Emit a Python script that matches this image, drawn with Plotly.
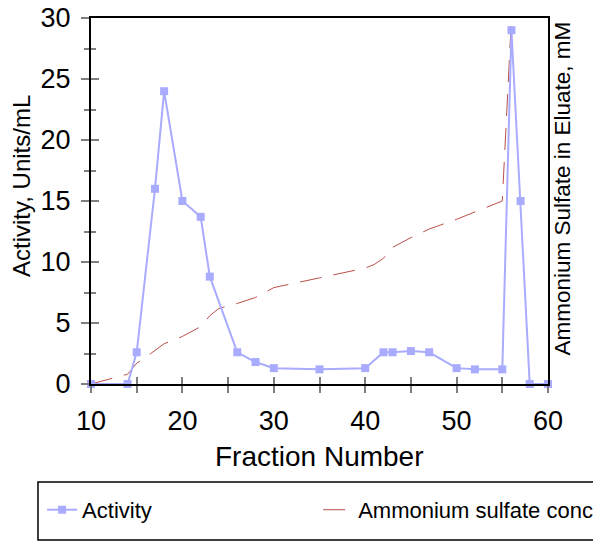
import plotly.graph_objects as go

# Activity (Units/mL) per fraction
fraction_activity = [10, 14, 15, 17, 18, 20, 22, 23, 26, 28, 30, 35, 40, 42, 43, 45, 47, 50, 52, 55, 56, 57, 58, 60]
activity = [0, 0, 2.6, 16, 24, 15, 13.7, 8.8, 2.6, 1.8, 1.3, 1.2, 1.3, 2.6, 2.6, 2.7, 2.6, 1.3, 1.2, 1.2, 29, 15, 0, 0]

# Ammonium sulfate concentration (plotted on the same visual scale)
fraction_salt = [10, 14, 15, 16, 18, 20, 22, 23, 24, 26, 28, 30, 35, 40, 41, 42, 43, 45, 47, 50, 52, 55, 56]
salt = [0, 0.8, 1.7, 2.2, 3.3, 3.9, 4.7, 5.6, 6.2, 6.6, 7.1, 7.9, 8.7, 9.5, 9.8, 10.3, 11.2, 12.0, 12.7, 13.5, 14.1, 15.0, 30]

x_ticks = [10, 20, 30, 40, 50, 60]
y_ticks = [0, 5, 10, 15, 20, 25, 30]

FONT = "Liberation Sans, Arial, sans-serif"
BLUE = "#a9abff"
RED = "#b9504c"
TICKC = "#7f7f7f"

fig = go.Figure()
fig.add_trace(go.Scatter(
    x=fraction_activity, y=activity, name="Activity", mode="lines+markers",
    line=dict(color=BLUE, width=2), marker=dict(symbol="square", size=8, color=BLUE),
    xaxis="x2", yaxis="y2", cliponaxis=False, legend="legend",
))
fig.add_trace(go.Scatter(
    x=fraction_salt, y=salt, name="Ammonium sulfate conc", mode="lines",
    line=dict(color=RED, width=1, dash="22px,12px"),
    xaxis="x", yaxis="y", legend="legend2",
))

common_x = dict(range=[10, 60], showgrid=False, zeroline=False)
common_y = dict(range=[0, 30], showgrid=False, zeroline=False)
leg_common = dict(orientation="h", xanchor="left", y=-0.344, yanchor="middle",
                  bgcolor="rgba(0,0,0,0)", borderwidth=0, font=dict(size=22, family=FONT))

fig.update_layout(
    width=593, height=533,
    paper_bgcolor="white", plot_bgcolor="white",
    font=dict(family=FONT, color="black"),
    margin=dict(l=83, r=53, t=10, b=157, autoexpand=False),
    showlegend=True,
    xaxis=dict(**common_x, tickvals=x_ticks, ticks="outside", ticklen=7, tickwidth=1.5, tickcolor=TICKC,
               minor=dict(dtick=5, ticks="outside", ticklen=7, tickwidth=1.5, tickcolor=TICKC),
               showline=True, linecolor="black", linewidth=2, mirror=True,
               tickfont=dict(size=27, family=FONT), ticklabelstandoff=5, ticklabeloverflow="allow"),
    xaxis2=dict(**common_x, overlaying="x", side="bottom", ticks="inside", ticklen=7, tickwidth=1.5,
                tickcolor=TICKC, tickvals=x_ticks,
                minor=dict(dtick=5, ticks="inside", ticklen=7, tickwidth=1.5, tickcolor=TICKC),
                showticklabels=False, showline=False),
    yaxis=dict(**common_y, tickvals=y_ticks, ticks="outside", ticklen=8, tickwidth=1.5, tickcolor=TICKC,
               minor=dict(dtick=2.5, ticks="outside", ticklen=5, tickwidth=1.5, tickcolor=TICKC),
               showline=True, linecolor="black", linewidth=2, mirror=True,
               tickfont=dict(size=27, family=FONT), ticklabelstandoff=5, ticklabeloverflow="allow"),
    yaxis2=dict(**common_y, overlaying="y", side="left", ticks="inside", ticklen=8, tickwidth=1.5,
                tickcolor=TICKC, tickvals=y_ticks,
                minor=dict(dtick=2.5, ticks="inside", ticklen=5, tickwidth=1.5, tickcolor=TICKC),
                showticklabels=False, showline=False),
    legend=dict(**leg_common, x=-0.107),
    legend2=dict(**leg_common, x=0.497),
    shapes=[dict(type="rect", xref="paper", yref="paper", x0=-0.116, x1=1.25, y0=-0.4262, y1=-0.2678,
                 line=dict(color="black", width=1.5), fillcolor="white", layer="below")],
    annotations=[
        dict(text="Fraction Number", xref="paper", yref="paper", x=0.5, y=-0.197, xanchor="center",
             yanchor="middle", showarrow=False, font=dict(size=28, family=FONT)),
        dict(text="Activity, Units/mL", xref="paper", yref="paper", x=-0.151, y=0.541, xanchor="center",
             yanchor="middle", textangle=-90, showarrow=False, font=dict(size=24, family=FONT)),
        dict(text="Ammonium Sulfate in Eluate, mM", xref="paper", yref="paper", x=1.0328, y=0.534,
             xanchor="center", yanchor="middle", textangle=-90, showarrow=False,
             font=dict(size=22.5, family=FONT)),
    ],
)

fig.write_html("out.html")
